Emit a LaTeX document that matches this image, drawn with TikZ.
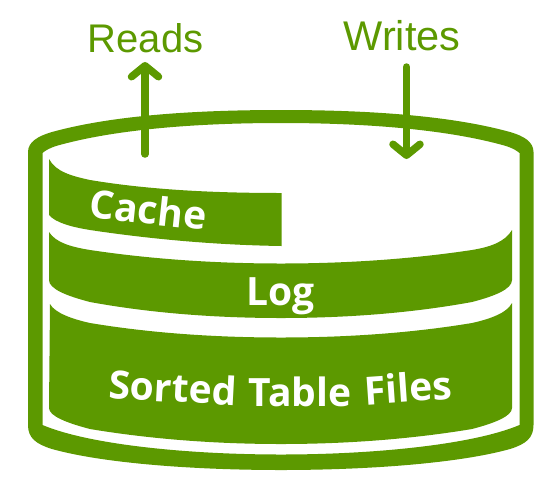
\documentclass[tikz,border=0pt]{standalone}
\usepackage{fontspec}
\setmainfont{Liberation Sans}
\newfontfamily\bandfont{Open Sans}
\usetikzlibrary{arrows.meta}
\definecolor{grn}{HTML}{5C9900}
\tikzset{
  band/.style={fill=grn,draw=none},
  flowlabel/.style={text=grn,inner sep=0pt,anchor=base},
  bandlabel/.style={text=white,font=\bandfont\bfseries\fontsize{39}{39}\selectfont,inner sep=0pt,anchor=base},
  flow/.style={draw=grn,line width=7.5pt,line cap=round,-{Straight Barb[round,length=11pt,width=27pt]}}
}
\begin{document}
\begin{tikzpicture}[x=1pt,y=-1pt]
\useasboundingbox (0,0) rectangle (556,488);
% container wall
\fill[grn,even odd rule]
  (28,425) -- (28,152) .. controls (28,142) and (38,136) .. (52,132)
  .. controls (110,116) and (190,110) .. (281,110)
  .. controls (372,110) and (452,116) .. (510,132)
  .. controls (524,136) and (533.5,142) .. (533.5,152)
  -- (533.5,425) .. controls (533.5,438) and (526,444) .. (510,449)
  .. controls (460,463) and (370,470) .. (281,470)
  .. controls (192,470) and (102,463) .. (52,449)
  .. controls (36,444) and (28,438) .. (28,425) -- cycle
  (42.5,425) .. controls (90,445) and (190,454.5) .. (281,454.5)
  .. controls (372,454.5) and (472,445) .. (519.5,425)
  -- (519.5,153) .. controls (516,150) and (512,148) .. (506,146)
  .. controls (450,130) and (370,123) .. (281,123)
  .. controls (192,123) and (112,130) .. (56,146)
  .. controls (50,148) and (46,150) .. (42.5,153) -- cycle;
% bands
\fill[band] (49,159) .. controls (56,172) and (72,176) .. (90,180)
  .. controls (150,190) and (215,193) .. (281.5,193)
  -- (281.5,246) .. controls (215,245) and (150,239) .. (90,230)
  .. controls (72,227) and (56,223) .. (49,215) -- cycle;
\fill[band] (49,232) .. controls (56,243) and (72,247) .. (90,250)
  .. controls (150,259) and (215,263.5) .. (281,263.5)
  .. controls (347,263.5) and (412,259) .. (472,250)
  .. controls (490,247) and (505,242) .. (512,230)
  -- (512,280) .. controls (512,289) and (495,296) .. (472,302)
  .. controls (412,313) and (347,318) .. (281,318)
  .. controls (215,318) and (150,313) .. (90,302)
  .. controls (67,296) and (49,289) .. (49,280) -- cycle;
\fill[band] (50,304) .. controls (55,313) and (72,319) .. (90,323)
  .. controls (150,333) and (215,337.5) .. (281,337.5)
  .. controls (347,337.5) and (412,333) .. (472,323)
  .. controls (490,319) and (507,313) .. (512,303)
  -- (512,408) .. controls (512,416) and (495,423) .. (472,429)
  .. controls (412,439) and (347,444) .. (281,444)
  .. controls (215,444) and (150,439) .. (90,429)
  .. controls (67,423) and (49,416) .. (49,408) -- cycle;
% band labels
\node[bandlabel,rotate=-6] (cache) at (147,224) {Cache};
\node[bandlabel] (log) at (280.5,305) {Log};
\node[bandlabel,rotate=-3] (sorted) at (172,402) {Sorted};
\node[bandlabel] (table) at (300,406) {Table};
\node[bandlabel,rotate=4] (files) at (409,402) {Files};
% flow labels
\node[flowlabel,font=\fontsize{40}{40}\selectfont] (reads) at (145.5,52) {Reads};
\node[flowlabel,font=\fontsize{41.5}{41.5}\selectfont] (writes) at (402,50) {Writes};
% arrows
\coordinate (readfrom) at (145,154);
\coordinate (readto) at (145,62);
\coordinate (writefrom) at (406.5,67);
\coordinate (writeto) at (406.5,159);
\draw[flow] (readfrom) -- (readto);
\draw[flow] (writefrom) -- (writeto);
\end{tikzpicture}
\end{document}
